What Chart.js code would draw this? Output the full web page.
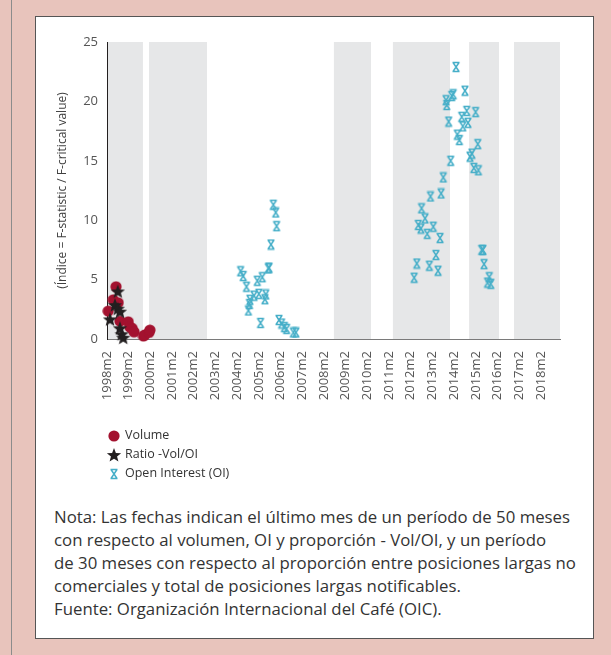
<!DOCTYPE html>
<html>
<head>
<meta charset="utf-8">
<script src="https://cdn.jsdelivr.net/npm/chart.js@4.4.1/dist/chart.umd.min.js"></script>
<style>
  html, body { margin: 0; padding: 0; }
  body { width: 611px; height: 655px; background: #e8c4bc; position: relative; overflow: hidden; font-family: "Open Sans", sans-serif; }
  #edge { position: absolute; left: 11px; top: 0; width: 1px; height: 655px; background: #8c8c8c; }
  #box { position: absolute; left: 35px; top: 16px; width: 557px; height: 621px; background: #fff; border: 1px solid #555; }
  #chart { position: absolute; left: 0; top: 0; }
  #legend { position: absolute; left: 70px; top: 408px; font-size: 12.5px; color: #333; }
  #legend div { height: 19px; line-height: 19px; white-space: nowrap; }
  #legend canvas { vertical-align: middle; margin-right: 3px; }
  #note { position: absolute; left: 18px; top: 488px; font-size: 16.8px; line-height: 23px; color: #333; white-space: nowrap; }
</style>
</head>
<body>
<div id="edge"></div>
<div id="box">
  <canvas id="chart" width="557" height="400"></canvas>
  <div id="legend"></div>
  <div id="note">
    Nota: Las fechas indican el último mes de un período de 50 meses<br>
    con respecto al volumen, OI y proporción - Vol/OI, y un período<br>
    de 30 meses con respecto al proporción entre posiciones largas no<br>
    comerciales y total de posiciones largas notificables.<br>
    Fuente: Organización Internacional del Café (OIC).
  </div>
</div>
<script>
// etiquetas del eje x
var tickLabels = ['1998m2', '1999m2', '2000m2', '2001m2', '2002m2', '2003m2', '2004m2',
  '2005m2', '2006m2', '2007m2', '2008m2', '2009m2', '2010m2', '2011m2', '2012m2',
  '2013m2', '2014m2', '2015m2', '2016m2', '2017m2', '2018m2'];

// franjas grises (año decimal)
var bandStart = [1998.13, 2000.02, 2008.54, 2011.26, 2014.77, 2016.84];
var bandEnd = [1999.74, 2002.69, 2010.25, 2013.89, 2016.15, 2018.96];

// Volume
var volumeX = [1998.14, 1998.37, 1998.50, 1998.60, 1998.68, 1999.06, 1999.14, 1999.24,
  1999.33, 1999.76, 1999.83, 2000.02, 2000.06];
var volumeY = [2.35, 3.3, 4.4, 3.05, 1.5, 1.45, 1.0, 0.9, 0.6, 0.25, 0.35, 0.55, 0.75];

// Ratio -Vol/OI
var ratioX = [1998.22, 1998.45, 1998.58, 1998.58, 1998.68, 1998.68, 1998.76, 1998.83];
var ratioY = [1.65, 2.85, 4.0, 2.55, 2.3, 0.9, 0.4, 0.1];

// Open Interest (OI)
var oiX = [2004.24, 2004.36, 2004.51, 2004.60, 2004.65, 2004.67, 2004.86, 2005.01, 2005.08,
  2005.16, 2005.24, 2005.36, 2005.40, 2005.52, 2005.55, 2005.64, 2005.75, 2005.86, 2005.90,
  2006.01, 2006.13, 2006.26, 2006.36, 2006.67, 2006.79,
  2012.24, 2012.36, 2012.43, 2012.55, 2012.58, 2012.74, 2012.84, 2012.94, 2012.99, 2013.12,
  2013.24, 2013.34, 2013.43, 2013.48, 2013.58, 2013.71, 2013.74, 2013.83, 2013.92, 2013.97,
  2014.04, 2014.17, 2014.23, 2014.32, 2014.43, 2014.48, 2014.58, 2014.66, 2014.72, 2014.81,
  2014.90, 2014.99, 2015.07, 2015.17, 2015.20, 2015.35, 2015.41, 2015.46, 2015.62, 2015.70,
  2015.77];
var oiY = [5.7, 5.3, 4.4, 2.4, 2.95, 3.3, 3.65, 4.9, 3.8,
  1.35, 5.2, 3.35, 3.75, 5.95, 6.0, 7.95, 11.3, 10.65, 9.5,
  1.6, 1.3, 1.0, 0.85, 0.55, 0.55,
  5.16, 6.35, 9.6, 9.3, 11.0, 10.15, 8.85, 6.17, 12.0, 9.45,
  7.07, 5.75, 8.5, 12.25, 13.6, 20.1, 19.7, 18.3, 15.0, 20.45,
  20.6, 22.9, 17.2, 16.75, 18.7, 17.9, 20.9, 19.2, 18.2, 15.35,
  15.6, 14.4, 19.1, 16.4, 14.2, 7.5, 7.5, 6.3, 4.75, 5.2,
  4.65];

function toPoints(xs, ys) {
  return xs.map(function (x, i) { return { x: x, y: ys[i] }; });
}

// marcadores
function makeCircle(color) {
  var c = document.createElement('canvas');
  c.width = 12; c.height = 12;
  var g = c.getContext('2d');
  g.fillStyle = color;
  g.beginPath();
  g.arc(6, 6, 5.6, 0, Math.PI * 2);
  g.fill();
  return c;
}

function makeStar(color) {
  var c = document.createElement('canvas');
  c.width = 16; c.height = 16;
  var g = c.getContext('2d');
  g.fillStyle = color;
  g.beginPath();
  for (var i = 0; i < 10; i++) {
    var r = i % 2 === 0 ? 7.5 : 3.2;
    var a = -Math.PI / 2 + i * Math.PI / 5;
    var px = 8 + r * Math.cos(a), py = 8.5 + r * Math.sin(a);
    if (i === 0) g.moveTo(px, py); else g.lineTo(px, py);
  }
  g.closePath();
  g.fill();
  return c;
}

function makeCross(color) {
  var c = document.createElement('canvas');
  c.width = 10; c.height = 12;
  var g = c.getContext('2d');
  g.strokeStyle = color;
  g.lineWidth = 1.5;
  g.beginPath();
  g.moveTo(1.5, 1.5); g.lineTo(8.5, 1.5);
  g.moveTo(2, 1.5); g.lineTo(8, 10.5);
  g.moveTo(8, 1.5); g.lineTo(2, 10.5);
  g.moveTo(1.5, 10.5); g.lineTo(8.5, 10.5);
  g.stroke();
  return c;
}

var circleImg = makeCircle('#a3122f');
var starImg = makeStar('#231f20');
var crossImg = makeCross('#45aec8');

// franjas grises detras de los puntos
var bandsPlugin = {
  id: 'bands',
  beforeDraw: function (chart) {
    var ctx = chart.ctx, xs = chart.scales.x, area = chart.chartArea;
    ctx.save();
    ctx.fillStyle = '#e6e7e8';
    for (var i = 0; i < bandStart.length; i++) {
      var x0 = xs.getPixelForValue(bandStart[i]);
      var x1 = xs.getPixelForValue(bandEnd[i]);
      ctx.fillRect(x0, area.top, x1 - x0, area.bottom - area.top);
    }
    ctx.restore();
  }
};

var ctx = document.getElementById('chart').getContext('2d');
var chart = new Chart(ctx, {
  type: 'scatter',
  data: {
    datasets: [
      { label: 'Volume', data: toPoints(volumeX, volumeY), pointStyle: circleImg, order: 2, clip: false },
      { label: 'Ratio -Vol/OI', data: toPoints(ratioX, ratioY), pointStyle: starImg, order: 1, clip: false },
      { label: 'Open Interest (OI)', data: toPoints(oiX, oiY), pointStyle: crossImg, order: 3, clip: false }
    ]
  },
  options: {
    responsive: false,
    animation: false,
    layout: { padding: { left: 15, right: 33, top: 25, bottom: 8 } },
    plugins: { legend: { display: false }, tooltip: { enabled: false } },
    scales: {
      x: {
        type: 'linear',
        min: 1998 + 1 / 12,
        max: 2018.96,
        grid: { display: false, drawTicks: false },
        border: { color: '#7a7a7a', width: 1 },
        afterBuildTicks: function (scale) {
          scale.ticks = tickLabels.map(function (t) { return { value: parseInt(t, 10) + 1 / 12 }; });
        },
        afterFit: function (scale) { scale.height = 70; },
        ticks: {
          autoSkip: false,
          minRotation: 90,
          maxRotation: 90,
          padding: 12,
          color: '#555',
          font: { family: 'Open Sans', size: 13 },
          callback: function (value, index) { return tickLabels[index]; }
        }
      },
      y: {
        min: 0,
        max: 25,
        grid: { display: false, drawTicks: false },
        border: { color: '#231f20', width: 1 },
        afterFit: function (scale) { scale.width = 56; },
        title: {
          display: true,
          text: '(Índice = F-statistic / F-critical value)',
          color: '#404040',
          font: { family: 'Open Sans', size: 12 }
        },
        ticks: {
          stepSize: 5,
          padding: 9,
          color: '#555',
          font: { family: 'Open Sans', size: 13 }
        }
      }
    }
  },
  plugins: [bandsPlugin]
});

// leyenda vertical
var legend = document.getElementById('legend');
chart.data.datasets.forEach(function (ds) {
  var row = document.createElement('div');
  var src = ds.pointStyle;
  var icon = document.createElement('canvas');
  icon.width = 16; icon.height = 16;
  icon.getContext('2d').drawImage(src, (16 - src.width) / 2, (16 - src.height) / 2);
  row.appendChild(icon);
  row.appendChild(document.createTextNode(ds.label));
  legend.appendChild(row);
});
</script>
</body>
</html>
